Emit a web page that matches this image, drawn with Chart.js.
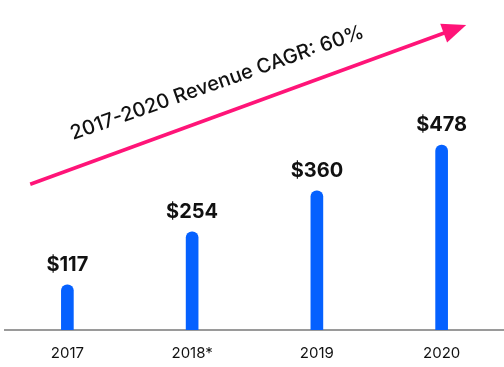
<!DOCTYPE html>
<html>
<head>
<meta charset="utf-8">
<script src="https://cdn.jsdelivr.net/npm/chart.js@4/dist/chart.umd.min.js"></script>
<style>
  html, body { margin: 0; padding: 0; background: #fff; }
  #wrap { width: 504px; height: 367px; position: relative; }
</style>
</head>
<body>
<div id="wrap"><canvas id="c"></canvas></div>
<script>
"use strict";
// revenue by year, $M
const years = ["2017", "2018*", "2019", "2020"];
const revenue = [117, 254, 360, 478];
const valueLabels = ["$117", "$254", "$360", "$478"];
const cagrText = "2017-2020 Revenue CAGR: 60%";

const C_BAR = "#0561ff";
const C_ARROW = "#ff1478";
const C_AXIS = "#9a9a9a";
const C_TEXT = "#111111";
const FONT = '"Inter", "Noto Sans", Arial, sans-serif';

// value labels above bars + the CAGR arrow
const overlay = {
  id: "overlay",
  afterDatasetsDraw(chart) {
    const ctx = chart.ctx;
    const meta = chart.getDatasetMeta(0);
    ctx.save();
    ctx.fillStyle = C_TEXT;
    ctx.font = "bold 20px " + FONT;
    ctx.textAlign = "center";
    ctx.textBaseline = "alphabetic";
    meta.data.forEach((bar, i) => {
      ctx.fillText(valueLabels[i], bar.x, bar.y - 14);
    });

    // arrow, laid out relative to the canvas
    const W = chart.width, H = chart.height;
    const x0 = W * 0.06, y0 = H * 0.502;
    const x1 = W * 0.925, y1 = H * 0.068;
    const ang = Math.atan2(y1 - y0, x1 - x0);
    const head = 24, half = 10;
    const bx = x1 - head * Math.cos(ang), by = y1 - head * Math.sin(ang);
    ctx.strokeStyle = C_ARROW;
    ctx.lineWidth = 3.5;
    ctx.beginPath();
    ctx.moveTo(x0, y0);
    ctx.lineTo(bx + 2 * Math.cos(ang), by + 2 * Math.sin(ang));
    ctx.stroke();
    ctx.fillStyle = C_ARROW;
    ctx.beginPath();
    ctx.moveTo(x1, y1);
    ctx.lineTo(bx - half * Math.sin(ang), by + half * Math.cos(ang));
    ctx.lineTo(bx + half * Math.sin(ang), by - half * Math.cos(ang));
    ctx.closePath();
    ctx.fill();

    // rotated caption
    ctx.translate(W * 0.431, H * 0.226);
    ctx.rotate(-19.4 * Math.PI / 180);
    ctx.fillStyle = C_TEXT;
    ctx.font = "500 20px " + FONT;
    ctx.textBaseline = "middle";
    ctx.fillText(cagrText, 0, 0);
    ctx.restore();
  },
};

new Chart(document.getElementById("c").getContext("2d"), {
  type: "bar",
  data: {
    labels: years,
    datasets: [{
      data: revenue,
      backgroundColor: C_BAR,
      barThickness: 12,
      borderRadius: { topLeft: 6, topRight: 6 },
      borderSkipped: "bottom",
    }],
  },
  options: {
    responsive: true,
    maintainAspectRatio: false,
    animation: false,
    layout: { padding: { top: 98, left: 5, right: 0, bottom: 0 } },
    plugins: { legend: { display: false }, tooltip: { enabled: false } },
    scales: {
      x: {
        grid: { display: false, drawTicks: false },
        border: { display: true, color: C_AXIS, width: 2 },
        ticks: { color: C_TEXT, padding: 14, font: { family: FONT, size: 15 } },
        afterFit(scale) { scale.height = 37; },
      },
      y: {
        display: false,
        min: 0,
        max: 600,
      },
    },
  },
  plugins: [overlay],
});
</script>
</body>
</html>
